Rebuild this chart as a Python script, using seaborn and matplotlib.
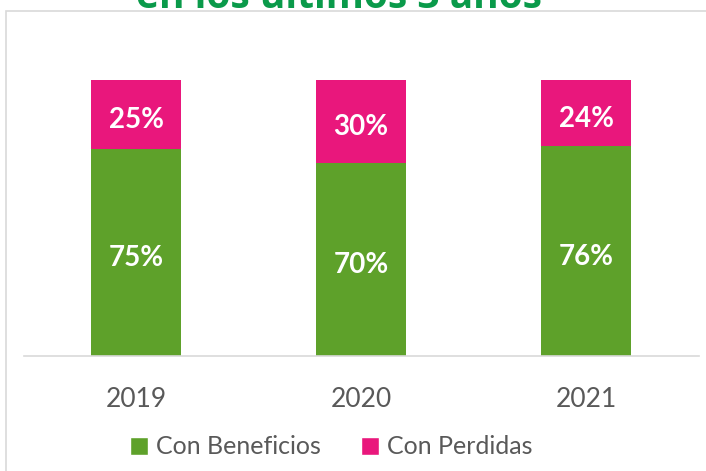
import matplotlib
matplotlib.use("Agg")
import matplotlib.pyplot as plt
import seaborn as sns
import pandas as pd
from matplotlib.patches import Rectangle, Patch

years = ["2019", "2020", "2021"]
beneficios = [75, 70, 76]
perdidas = [25, 30, 24]
series_names = ["Con Beneficios", "Con Perdidas"]
title = "en los últimos 3 años"

green = "#5EA12A"
pink = "#E9177C"

sns.set_theme(style="white")
plt.rcParams['font.family'] = ['Lato', 'DejaVu Sans']

fig = plt.figure(figsize=(7.06, 4.71), dpi=100)
fig.patch.set_facecolor("white")

# outer chart border
fig.add_artist(Rectangle((6/706, -0.05), 1.0, 1 - 11/471 + 0.05, transform=fig.transFigure,
                         fill=False, edgecolor="#D9D9D9", linewidth=1.2))

fig.text(339/706, 1 - 8/471, title, ha="center", va="baseline", color="#0A9A4A",
         fontsize=28, fontweight="bold", family=["Open Sans", "DejaVu Sans"])

ax = fig.add_axes([23.5/706, 1 - 356/471, 675/706, 276/471])

df = pd.DataFrame({"year": years, "ben": beneficios, "per": perdidas})
df["total"] = df["ben"] + df["per"]

sns.barplot(data=df, x="year", y="total", color=pink, width=0.4, ax=ax, saturation=1,
            edgecolor="none")
sns.barplot(data=df, x="year", y="ben", color=green, width=0.4, ax=ax, saturation=1,
            edgecolor="none")

for i, (b, p) in enumerate(zip(beneficios, perdidas)):
    ax.annotate(f"{b}%", (i, b / 2), xytext=(0, -4), textcoords="offset points",
                ha="center", va="center", color="white", fontsize=20, fontweight="bold")
    ax.annotate(f"{p}%", (i, b + p / 2), xytext=(0, -4), textcoords="offset points",
                ha="center", va="center", color="white", fontsize=20, fontweight="bold")

ax.set_xlim(-0.5, 2.5)
ax.set_ylim(0, 100)
ax.set_yticks([])
ax.set_xlabel("")
ax.set_ylabel("")
for s in ["top", "left", "right"]:
    ax.spines[s].set_visible(False)
ax.spines["bottom"].set_color("#D9D9D9")
ax.spines["bottom"].set_linewidth(1.2)
ax.tick_params(axis="x", length=0, pad=22, labelsize=19, labelcolor="#595959")

handles = [Patch(facecolor=green, label=series_names[0]),
           Patch(facecolor=pink, label=series_names[1])]
fig.legend(handles=handles, loc="center", bbox_to_anchor=(331/706, 1 - 447/471), ncol=2,
           frameon=False, fontsize=18, labelcolor="#595959", handlelength=0.75,
           handleheight=0.75, handletextpad=0.3, columnspacing=1.6)

fig.savefig("out.png", dpi=100, facecolor="white")
